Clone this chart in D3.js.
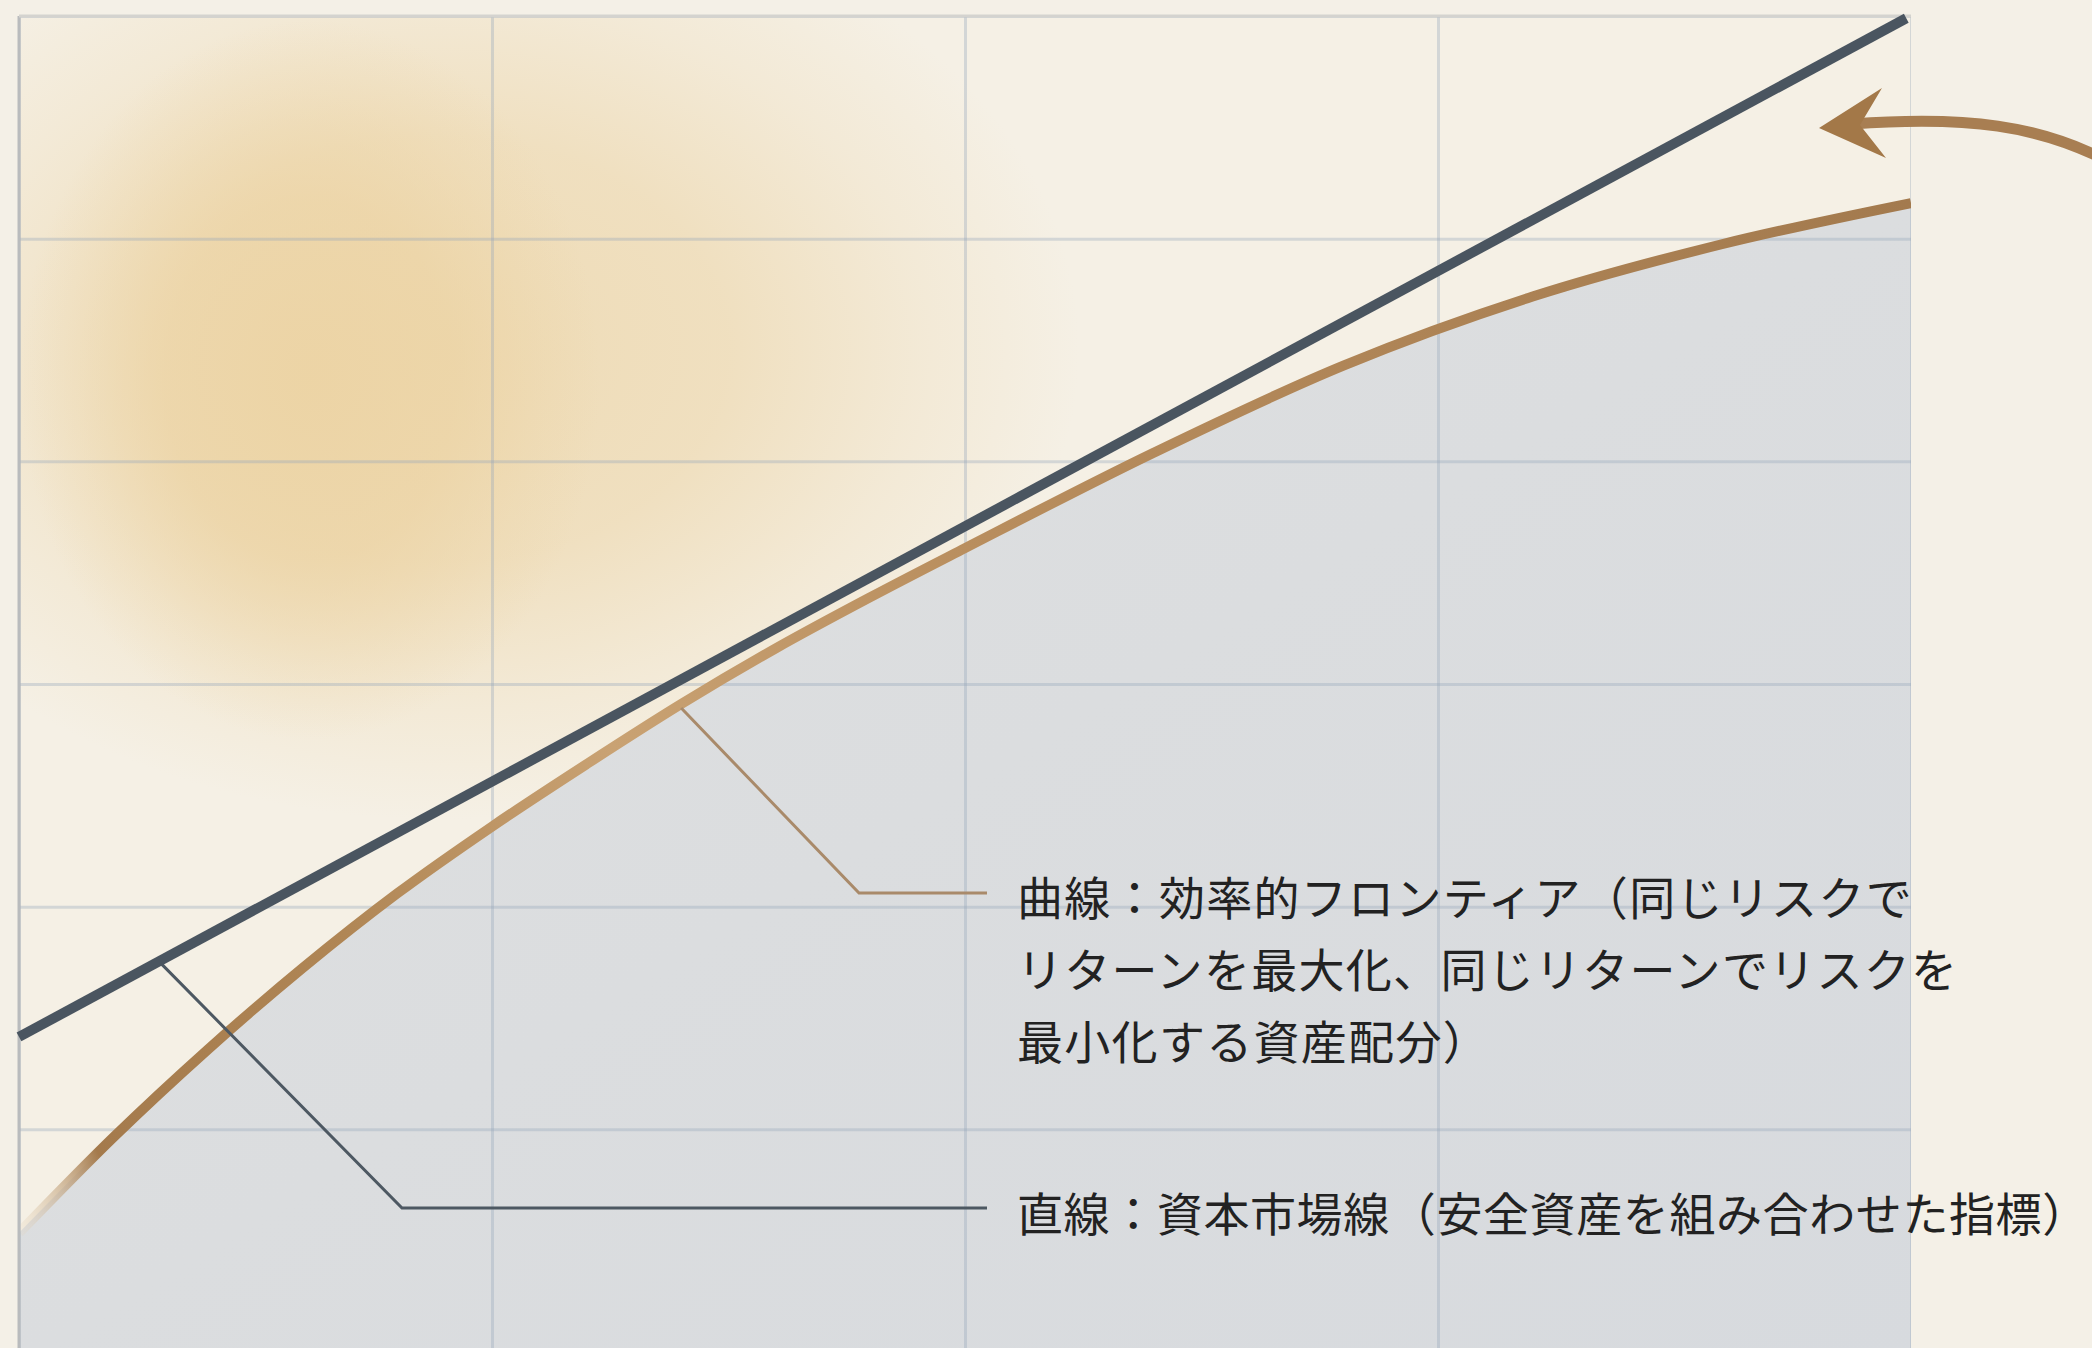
<!DOCTYPE html>
<html>
<head>
<meta charset="utf-8">
<script src="https://cdn.jsdelivr.net/npm/d3@7"></script>
<style>
  html, body { margin: 0; padding: 0; background: #f4f0e7; }
  svg { display: block; }
</style>
</head>
<body>
<div id="chart"></div>
<script>
// risk (x) and return (y)
var frontierRisk   = [0, 1, 2, 3, 4, 5, 6, 7, 8, 9, 10, 12, 14, 16, 18, 20];
var frontierReturn = [1.07, 1.93, 2.72, 3.45, 4.12, 4.72, 5.28, 5.82, 6.32, 6.78, 7.22, 8.08, 8.86, 9.48, 9.95, 10.32];
var cmlRisk   = [0, 19.95];
var cmlReturn = [2.83, 11.98];
var xTicks = [0, 5, 10, 15, 20];
var yTicks = [0, 2, 4, 6, 8, 10, 12];
var frontierLabel = ["曲線：効率的フロンティア（同じリスクで",
                     "リターンを最大化、同じリターンでリスクを",
                     "最小化する資産配分）"];
var cmlLabel = ["直線：資本市場線（安全資産を組み合わせた指標）"];

var W = 2092, H = 1348;
var pLeft = 19, pRight = 1911, pTop = 16, pBottom = 1352;

var x = d3.scaleLinear().domain([0, 20]).range([pLeft, pRight]);
var y = d3.scaleLinear().domain([0, 12]).range([pBottom, pTop]);

var svg = d3.select("#chart").append("svg")
    .attr("width", W).attr("height", H);

var defs = svg.append("defs");
defs.append("clipPath").attr("id", "plotClip")
  .append("rect").attr("x", pLeft).attr("y", pTop)
    .attr("width", pRight - pLeft).attr("height", pBottom - pTop);

function glow(id, color, stops) {
    var g = defs.append("radialGradient").attr("id", id);
    stops.forEach(function(s) {
        g.append("stop").attr("offset", s[0]).attr("stop-color", color).attr("stop-opacity", s[1]);
    });
}
glow("glowWide", "#eedab3", [[0, 0.95], [0.45, 0.75], [0.75, 0.3], [1, 0]]);
glow("glowCore", "#ecd3a3", [[0, 0.9], [0.5, 0.7], [0.8, 0.25], [1, 0]]);

var fg = defs.append("linearGradient").attr("id", "frontierGrad")
    .attr("gradientUnits", "userSpaceOnUse")
    .attr("x1", x(0)).attr("y1", y(1.07)).attr("x2", x(20)).attr("y2", y(10.32));
[[0, "#e6d2b4", 0.15], [0.05, "#a47a4c", 1], [0.2, "#b08655", 1], [0.35, "#c9a273", 1],
 [0.55, "#b88d5d", 1], [1, "#a37a4e", 1]].forEach(function(s) {
    fg.append("stop").attr("offset", s[0]).attr("stop-color", s[1]).attr("stop-opacity", s[2]);
});

var gg = defs.append("linearGradient").attr("id", "grayGrad")
    .attr("x1", 0).attr("y1", 0).attr("x2", 1).attr("y2", 1);
gg.append("stop").attr("offset", 0).attr("stop-color", "#dfe0e0");
gg.append("stop").attr("offset", 1).attr("stop-color", "#d7dade");

var plot = svg.append("g").attr("clip-path", "url(#plotClip)");

// cream panel + warm glow in the upper left
plot.append("rect")
    .attr("x", pLeft).attr("y", pTop)
    .attr("width", pRight - pLeft).attr("height", pBottom - pTop)
    .attr("fill", "#f5f0e5");
plot.append("ellipse")
    .attr("cx", 440).attr("cy", 350).attr("rx", 640).attr("ry", 470)
    .attr("fill", "url(#glowWide)");
plot.append("ellipse")
    .attr("cx", 310).attr("cy", 380).attr("rx", 290).attr("ry", 360)
    .attr("fill", "url(#glowCore)");

var pts = frontierRisk.map(function(r, i) { return [r, frontierReturn[i]]; });

var area = d3.area()
    .x(function(d) { return x(d[0]); })
    .y0(pBottom + 10)
    .y1(function(d) { return y(d[1]); })
    .curve(d3.curveMonotoneX);

plot.append("path").datum(pts)
    .attr("d", area)
    .attr("fill", "url(#grayGrad)");

// grid
var gridColor = "rgba(150,165,185,0.35)";
var gx = plot.append("g")
    .attr("transform", "translate(0," + pTop + ")")
    .call(d3.axisTop(x).tickValues(xTicks).tickSize(-(pBottom - pTop)).tickFormat(""));
var gy = plot.append("g")
    .attr("transform", "translate(" + pLeft + ",0)")
    .call(d3.axisLeft(y).tickValues(yTicks).tickSize(-(pRight - pLeft)).tickFormat(""));
[gx, gy].forEach(function(g) {
    g.select(".domain").remove();
    g.selectAll("line").attr("stroke", gridColor).attr("stroke-width", 3);
});

var line = d3.line()
    .x(function(d) { return x(d[0]); })
    .y(function(d) { return y(d[1]); });

// frame
svg.append("line").attr("x1", pLeft).attr("x2", pLeft).attr("y1", pTop).attr("y2", H)
    .attr("stroke", "#b9bbbd").attr("stroke-width", 3);
svg.append("line").attr("x1", pLeft).attr("x2", pRight).attr("y1", pTop).attr("y2", pTop)
    .attr("stroke", "#d4d3cf").attr("stroke-width", 3);

// leader lines
var fAnchor = [7, 5.82];
var cAnchor = [1.5, cmlReturn[0] + 1.5 * (cmlReturn[1] - cmlReturn[0]) / (cmlRisk[1] - cmlRisk[0])];
svg.append("path")
    .attr("d", "M" + x(fAnchor[0]) + "," + (y(fAnchor[1]) + 4) + "L859,893L987,893")
    .attr("fill", "none").attr("stroke", "#a98a6a").attr("stroke-width", 3);
svg.append("path")
    .attr("d", "M" + x(cAnchor[0]) + "," + (y(cAnchor[1]) + 3) + "L402,1208L987,1208")
    .attr("fill", "none").attr("stroke", "#4d5862").attr("stroke-width", 3);

// frontier curve
plot.append("path").datum(pts)
    .attr("d", line.curve(d3.curveMonotoneX))
    .attr("fill", "none")
    .attr("stroke", "url(#frontierGrad)")
    .attr("stroke-width", 10);

// capital market line
svg.append("path")
    .datum(cmlRisk.map(function(r, i) { return [r, cmlReturn[i]]; }))
    .attr("d", line.curve(d3.curveLinear))
    .attr("fill", "none")
    .attr("stroke", "#4a5560")
    .attr("stroke-width", 10);

// curved arrow on the right
svg.append("path")
    .attr("d", "M2115,165 C2040,124 1965,116 1852,124")
    .attr("fill", "none").attr("stroke", "#a87e52").attr("stroke-width", 11);
svg.append("path")
    .attr("d", "M1819,128 L1882,88 L1860,125 L1886,158 Z")
    .attr("fill", "#a37848");

// labels
var font = "'Noto Sans CJK JP', 'Noto Sans', sans-serif";
svg.append("g").selectAll("text").data(frontierLabel).enter().append("text")
    .attr("x", 1017)
    .attr("y", function(d, i) { return 895 + i * 72; })
    .attr("dominant-baseline", "central")
    .attr("font-family", font).attr("font-size", 46)
    .attr("letter-spacing", 1.3)
    .attr("fill", "#222")
    .text(function(d) { return d; });
svg.append("g").selectAll("text").data(cmlLabel).enter().append("text")
    .attr("x", 1017)
    .attr("y", 1211)
    .attr("dominant-baseline", "central")
    .attr("font-family", font).attr("font-size", 46)
    .attr("letter-spacing", 0.6)
    .attr("fill", "#222")
    .text(function(d) { return d; });
</script>
</body>
</html>
